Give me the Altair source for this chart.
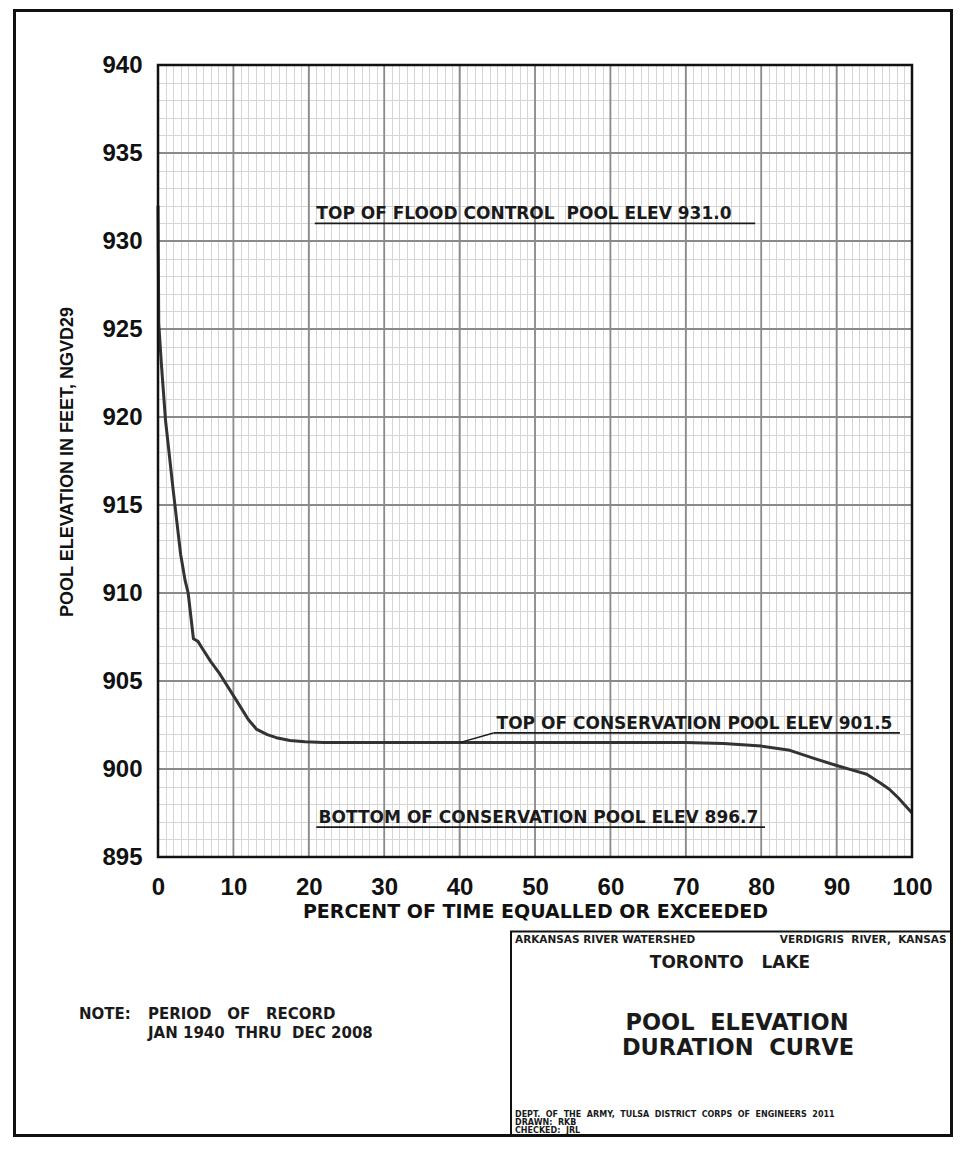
import altair as alt
import pandas as pd

# ---------------- data ----------------
percent = [0, 0.1, 0.45, 1.0, 2.0, 3.0, 3.6, 4.0, 4.7, 5.3, 5.8, 7.0, 8.2, 10.4, 12.0, 13.1,
           14.5, 15.7, 17.5, 19.5, 22, 25, 40, 60, 70, 75, 80, 83.8, 87, 90, 92, 94, 95.8,
           97, 98.2, 100]
elevation = [932.0, 925.3, 923.0, 919.8, 915.9, 912.2, 910.7, 910.0, 907.4, 907.25, 906.9,
             906.1, 905.4, 903.9, 902.8, 902.25, 901.95, 901.78, 901.62, 901.55, 901.5, 901.5,
             901.5, 901.5, 901.5, 901.45, 901.3, 901.06, 900.6, 900.2, 899.95, 899.7, 899.2,
             898.85, 898.35, 897.5]

x_major = [0, 10, 20, 30, 40, 50, 60, 70, 80, 90, 100]
y_major = [895, 900, 905, 910, 915, 920, 925, 930, 935, 940]
x_minor = list(range(0, 101))
y_minor = list(range(895, 941))

NB = "\u00a0"
ann_text = ["TOP OF FLOOD CONTROL" + NB + " POOL ELEV 931.0",
            "TOP OF CONSERVATION POOL ELEV 901.5",
            "BOTTOM OF CONSERVATION POOL ELEV 896.7"]
ann_x = [21.0, 44.9, 21.3]
ann_line_x0 = [20.8, 44.5, 21.0]
ann_line_x1 = [79.2, 98.4, 80.5]
ann_elev = [931.0, 902.05, 896.7]
leader_x = [40.0, 44.5]
leader_y = [901.5, 902.05]

x_title = "PERCENT OF TIME EQUALLED OR EXCEEDED"
y_title = "POOL ELEVATION IN FEET, NGVD29"

# ---------------- tables ----------------
curve_df = pd.DataFrame({"p": percent, "e": elevation})
xmaj_df = pd.DataFrame({"v": x_major})
ymaj_df = pd.DataFrame({"v": y_major})
frame_df = pd.DataFrame({"x0": [x_major[0]], "x1": [x_major[-1]],
                         "y0": [y_major[0]], "y1": [y_major[-1]]})
ann_df = pd.DataFrame({"t": ann_text, "x": ann_x, "x0": ann_line_x0,
                       "x1": ann_line_x1, "e": ann_elev})
leader_df = pd.DataFrame({"x": [leader_x[0]], "x2": [leader_x[1]],
                          "y": [leader_y[0]], "y2": [leader_y[1]]})
one = pd.DataFrame({"k": [0]})

W, H = 754, 792
PAD_L, PAD_T, PAD_R, PAD_B = 150, 57, 41, 280
xs = alt.Scale(domain=[0, 100], nice=False, zero=False)
ys = alt.Scale(domain=[895, 940], nice=False, zero=False)

INK = "#1a1a1a"
TFONT = "DejaVu Sans"

x_axis = alt.Axis(values=x_minor, grid=True, gridColor="#d6d6d6", gridWidth=1,
                  ticks=False, domain=False,
                  labelExpr="datum.value % 10 === 0 ? datum.label : ''",
                  labelFont="Liberation Sans", labelFontSize=24, labelFontWeight="bold",
                  labelColor="#111", labelPadding=18, labelOverlap=False,
                  labelFlush=False, labelBound=False,
                  title=x_title, titleFont=TFONT, titleFontSize=19,
                  titleFontWeight="bold", titleColor="#111",
                  titleBaseline="alphabetic", titleY=60, titleX=W / 2)
y_axis = alt.Axis(values=y_minor, grid=True, gridColor="#d6d6d6", gridWidth=1,
                  ticks=False, domain=False,
                  labelExpr="datum.value % 5 === 0 ? datum.label : ''",
                  labelFont="Liberation Sans", labelFontSize=24, labelFontWeight="bold",
                  labelColor="#111", labelPadding=16, labelOverlap=False,
                  labelFlush=False, labelBound=False,
                  title=y_title, titleFont="Liberation Sans", titleFontSize=18,
                  titleFontWeight="bold", titleColor="#111", titleAngle=270,
                  titleAlign="center", titleBaseline="middle",
                  titleX=-91, titleY=396.5)


def X(field):
    return alt.X(field, scale=xs, axis=x_axis)


def Y(field):
    return alt.Y(field, scale=ys, axis=y_axis)


major_x = alt.Chart(xmaj_df).mark_rule(color="#8a8a8a", strokeWidth=1.8).encode(
    x=X("v:Q"))
major_y = alt.Chart(ymaj_df).mark_rule(color="#8a8a8a", strokeWidth=1.8).encode(
    y=Y("v:Q"))

frame = alt.Chart(frame_df).mark_rect(fill="transparent", stroke="#111",
                                      strokeWidth=2.5).encode(
    x=X("x0:Q"), x2="x1:Q", y=Y("y0:Q"), y2="y1:Q")

curve = alt.Chart(curve_df).mark_line(color="#333333", strokeWidth=3,
                                      strokeJoin="round").encode(
    x=X("p:Q"), y=Y("e:Q"))

ann_lines = alt.Chart(ann_df).mark_rule(color=INK, strokeWidth=1.8).encode(
    x=X("x0:Q"), x2="x1:Q", y=Y("e:Q"))
ann_texts = alt.Chart(ann_df).mark_text(font=TFONT, fontSize=17, fontWeight="bold",
                                        color=INK, align="left",
                                        baseline="alphabetic", dy=-4).encode(
    x=X("x:Q"), y=Y("e:Q"), text="t:N")
leader = alt.Chart(leader_df).mark_rule(color=INK, strokeWidth=1.5).encode(
    x=X("x:Q"), x2="x2:Q", y=Y("y:Q"), y2="y2:Q")

# ---------------- sheet border, title block, note ----------------
RIGHT = W + PAD_R - 1.5
BOTTOM = H + PAD_B - 1.5
outer = alt.Chart(one).mark_rect(fill="transparent", stroke="#111", strokeWidth=3).encode(
    x=alt.value(-143.5), x2=alt.value(RIGHT), y=alt.value(-54.5), y2=alt.value(BOTTOM))
tbox = alt.Chart(one).mark_rect(fill="transparent", stroke="#111", strokeWidth=2).encode(
    x=alt.value(353), x2=alt.value(RIGHT), y=alt.value(866.5), y2=alt.value(BOTTOM))


def label(txt, x, y, size, align="left", weight="bold", font=TFONT):
    return alt.Chart(one).mark_text(text=txt.replace("  ", " " + NB), font=font,
                                    fontSize=size, fontWeight=weight, color=INK,
                                    align=align, baseline="middle").encode(
        x=alt.value(x), y=alt.value(y))


texts = [
    label("ARKANSAS RIVER WATERSHED", 357, 875, 10.5),
    label("VERDIGRIS  RIVER,  KANSAS", RIGHT - 5, 875, 10.5, align="right"),
    label("TORONTO   LAKE", 572, 897.5, 17, align="center"),
    label("POOL  ELEVATION", 579, 957.5, 22.5, align="center"),
    label("DURATION  CURVE", 580, 982.5, 22.5, align="center"),
    label("DEPT.  OF  THE  ARMY,  TULSA  DISTRICT  CORPS  OF  ENGINEERS  2011",
          357, 1049.5, 8),
    label("DRAWN:  RKB", 357, 1057.5, 8),
    label("CHECKED:  JRL", 357, 1065.5, 8),
    label("NOTE:", -79, 949, 15),
    label("PERIOD   OF   RECORD", -10, 949, 15),
    label("JAN 1940  THRU  DEC 2008", -10, 968.3, 15),
]

chart = alt.layer(major_x, major_y, curve, frame, ann_lines, ann_texts, leader,
                  outer, tbox, *texts).properties(
    width=W, height=H,
    padding={"left": PAD_L, "top": PAD_T, "right": PAD_R, "bottom": PAD_B},
    autosize=alt.AutoSizeParams(type="none"),
    background="white",
).configure_view(stroke=None)

chart.save("out.html", embed_options={"renderer": "svg", "actions": False})
